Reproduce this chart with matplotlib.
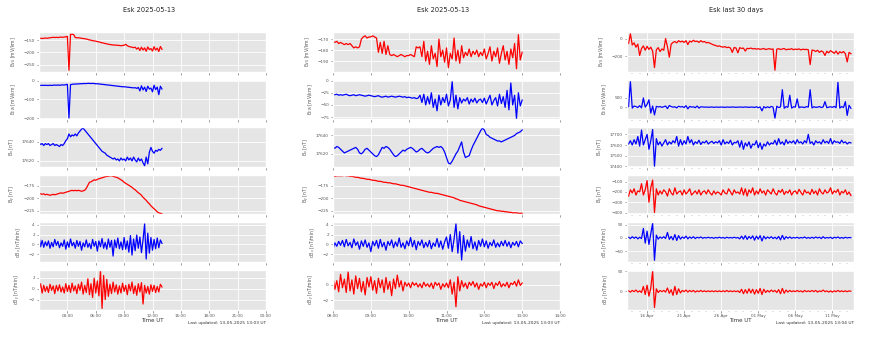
import matplotlib
matplotlib.use("Agg")

import matplotlib.dates as mdates
import matplotlib.pyplot as plt
import pandas as pd

# --- today, full day (10 min samples from 00:00) ---
DAY_E_NS = [-142, -141, -142, -141, -140, -141,
            -140, -139, -138, -137, -138, -137,
            -138, -137, -136, -137, -136, -135,
            -133, -274, -125, -124, -126, -138,
            -139, -139, -140, -141, -142, -143,
            -144, -146, -148, -149, -151, -152,
            -153, -155, -156, -158, -160, -161,
            -163, -164, -166, -167, -168, -169,
            -169, -170, -170, -171, -172, -171,
            -170, -166, -172, -175, -177, -178,
            -180, -178, -186, -180, -192, -178,
            -190, -181, -195, -177, -188, -184,
            -194, -176, -190, -182, -196, -175, -187]
DAY_E_EW = [-25, -26, -25, -26, -25, -26,
            -26, -25, -26, -25, -24, -25,
            -24, -25, -24, -23, -24, -22,
            -20, -200, -22, -20, -19, -19,
            -18, -18, -17, -17, -16, -16,
            -16, -15, -15, -16, -15, -16,
            -17, -17, -18, -19, -20, -21,
            -22, -23, -24, -25, -26, -27,
            -28, -29, -30, -31, -32, -33,
            -33, -34, -35, -36, -37, -38,
            -39, -38, -42, -36, -55, -28,
            -50, -35, -58, -30, -45, -40,
            -60, -25, -48, -35, -75, -30, -45]
DAY_B_X = [17639, 17637, 17638, 17636, 17638, 17637,
           17638, 17636, 17637, 17638, 17636, 17637,
           17636, 17635, 17637, 17636, 17638, 17641,
           17643, 17648, 17645, 17647, 17646, 17648,
           17646, 17649, 17651, 17653, 17654, 17652,
           17650, 17648, 17646, 17644, 17642, 17640,
           17638, 17636, 17634, 17632, 17630, 17629,
           17628, 17626, 17625, 17624, 17623, 17622,
           17623, 17621, 17622, 17620, 17623, 17621,
           17622, 17620, 17624, 17621, 17623, 17620,
           17624, 17621, 17619, 17623, 17620, 17622,
           17618, 17615, 17624, 17617, 17629, 17634,
           17630, 17628, 17631, 17630, 17632, 17631, 17633]
DAY_B_Y = [-190, -191, -192, -191, -193, -192,
           -193, -194, -193, -192, -193, -192,
           -191, -190, -189, -190, -189, -188,
           -187, -186, -185, -184, -185, -184,
           -185, -184, -185, -186, -185, -184,
           -180, -174, -168, -167, -165, -163,
           -164, -162, -161, -160, -159, -158,
           -157, -156, -156, -155, -155, -156,
           -157, -158, -159, -161, -163, -165,
           -168, -170, -172, -174, -176, -178,
           -181, -183, -186, -189, -191, -194,
           -198, -201, -204, -208, -211, -215,
           -218, -221, -224, -227, -229, -230, -231]
DAY_DB_X = [1.8, -0.5, 0.8, -0.6, 0.5, -0.3,
            0.7, -0.8, 0.4, -0.5, 1.0, -0.2,
            0.6, -0.7, 0.3, -0.4, 0.9, -1.0,
            0.5, -0.6, 1.1, -0.3, 0.4, -0.8,
            0.8, -0.4, 0.6, -1.2, 0.3, -0.5,
            0.9, -0.6, 0.2, -0.9, 1.0, -0.4,
            0.6, -1.4, 0.7, -0.5, 1.2, -0.8,
            0.4, -1.0, 1.1, -0.6, 0.8, -2.4,
            0.9, -0.7, 1.3, -0.9, 0.5, -1.1,
            1.4, -1.0, 0.7, -1.6, 1.8, -2.2,
            1.1, -1.3, 1.9, -0.8, 1.5, -1.7,
            0.9, 4.2, -3.0, 2.3, -1.8, 1.4,
            -1.2, 1.0, -0.9, 1.3, -0.7, 0.9, 0.2]
DAY_DB_Y = [-0.2, 0.9, -0.8, 0.6, -0.5, 0.4,
            -0.7, 0.8, -0.3, 0.5, -0.9, 0.6,
            -0.4, 0.7, -0.6, 0.3, -0.8, 0.9,
            -0.5, 0.6, -0.7, 1.0, -0.4, 0.5,
            -0.9, 0.8, -0.3, 1.2, -1.0, 0.6,
            -0.7, 1.8, -1.1, 0.9, -1.6, 1.9,
            -0.8, 1.4, -1.3, 3.3, -3.6, 2.4,
            -2.0, 1.7, -1.4, 0.8, -0.9, 1.2,
            -0.6, 0.7, -1.0, 0.5, -0.8, 1.0,
            -0.5, 0.6, -1.1, 0.8, -0.4, 1.2,
            -0.9, 0.5, -1.2, 0.9, -0.6, 1.1,
            -2.8, 0.6, -0.8, 0.4, -1.0, 0.7,
            -0.5, 0.6, -0.7, 0.4, -0.6, 0.8, 0.3]

# --- today, 08:00 onwards (3 min samples) ---
ZOOM_E_NS = [-172, -173, -172, -174, -173, -174, -175, -174, -175, -174,
             -176, -178, -177, -178, -177, -170, -168, -167, -169, -168,
             -168, -167, -168, -169, -182, -173, -183, -172, -184, -176,
             -184, -185, -184, -185, -186, -185, -184, -185, -186, -185,
             -185, -184, -185, -186, -177, -178, -177, -186, -172, -190,
             -181, -193, -176, -188, -183, -195, -170, -186, -180, -191,
             -178, -196, -183, -188, -169, -190, -180, -192, -176, -187,
             -182, -185, -179, -186, -181, -184, -180, -186, -182, -185,
             -179, -188, -183, -177, -190, -181, -186, -178, -192, -183,
             -176, -189, -181, -193, -179, -187, -174, -197, -166, -189,
             -182]
ZOOM_E_EW = [-28, -29, -28, -30, -29, -30, -29, -28, -30, -31,
             -30, -29, -31, -30, -29, -30, -31, -32, -31, -30,
             -31, -32, -33, -32, -31, -33, -34, -33, -32, -34,
             -33, -32, -33, -34, -33, -32, -33, -34, -33, -35,
             -34, -35, -36, -35, -37, -36, -30, -45, -28, -50,
             -33, -48, -25, -55, -38, -62, -30, -50, -35, -45,
             -28, -52, -40, -2, -55, -30, -58, -35, -46, -38,
             -42, -35, -48, -38, -44, -36, -46, -40, -38, -45,
             -36, -48, -39, -30, -50, -41, -35, -52, -28, -47,
             -33, -55, -20, -60, -5, -50, -30, -78, -25, -52,
             -40]
ZOOM_B_X = [17627, 17626, 17628, 17627, 17625, 17623, 17621, 17622, 17623, 17624,
            17625, 17626, 17627, 17625, 17621, 17620, 17622, 17625, 17626, 17624,
            17622, 17620, 17618, 17617, 17619, 17623, 17627, 17626, 17628, 17627,
            17625, 17622, 17619, 17617, 17618, 17620, 17622, 17624, 17623, 17625,
            17626, 17627, 17626, 17624, 17622, 17623, 17625, 17626, 17624, 17622,
            17621, 17622, 17624, 17626, 17627, 17628, 17627, 17628, 17626, 17622,
            17616, 17610, 17609, 17612, 17616, 17620, 17623, 17628, 17633, 17622,
            17616, 17617, 17618, 17624, 17629, 17633, 17637, 17641, 17645, 17648,
            17646, 17641, 17640, 17638, 17637, 17636, 17635, 17634, 17634, 17633,
            17634, 17635, 17636, 17637, 17638, 17639, 17640, 17642, 17643, 17644,
            17646]
ZOOM_B_Y = [-156, -156, -155, -155, -155, -155, -154, -155, -155, -156,
            -156, -157, -158, -158, -159, -160, -160, -161, -162, -162,
            -163, -164, -164, -165, -166, -166, -167, -168, -168, -169,
            -169, -170, -171, -171, -172, -173, -174, -174, -175, -176,
            -177, -178, -179, -180, -181, -182, -183, -184, -185, -186,
            -187, -188, -188, -189, -190, -190, -191, -192, -193, -194,
            -195, -196, -197, -198, -199, -201, -202, -204, -205, -206,
            -207, -208, -209, -210, -211, -212, -213, -215, -216, -217,
            -218, -219, -220, -221, -222, -223, -224, -225, -225, -226,
            -226, -227, -227, -228, -228, -229, -229, -229, -230, -230,
            -230]
ZOOM_DB_X = [-1.0, 0.3, -0.4, 0.6, -0.2, 0.8, -0.5, 1.0, -0.3, 0.4,
             -0.7, 1.1, -0.2, 0.5, -1.0, 0.7, -0.4, 0.9, -0.6, 0.3,
             -1.5, 0.6, -0.3, 0.8, -0.8, 1.0, -0.5, 0.4, -1.2, 0.6,
             -0.2, 0.9, -0.7, 0.5, -0.4, 1.3, -0.6, 0.3, -0.9, 0.7,
             -0.3, 1.4, -0.5, 0.8, -1.1, 0.6, -0.2, 0.9, -0.7, 0.4,
             -0.5, 0.8, -0.9, 0.3, -0.4, 1.2, -0.6, 0.7, -1.0, 0.5,
             1.5, -0.8, 2.0, -1.5, 1.1, 4.2, -1.8, 2.6, -3.2, 1.8,
             -1.4, 0.9, -0.6, 1.6, -0.9, 0.5, -1.2, 0.8, -0.4, 1.1,
             -0.5, 0.7, -0.8, 0.4, -0.3, 0.9, -0.6, 0.3, -0.5, 0.6,
             -0.3, 0.8, -0.4, 0.5, -0.7, 0.4, -0.2, 0.6, -0.5, 0.7,
             0.2]
ZOOM_DB_Y = [0.9, -0.6, 0.5, -0.9, 1.3, -0.4, 0.7, -1.0, 1.6, -0.8,
             0.6, -1.2, 1.1, -0.5, 0.8, -0.9, 0.4, -1.3, 0.9, -0.3,
             1.0, -0.7, 0.5, -1.1, 0.8, -0.4, 0.6, -1.0, 0.9, -0.6,
             0.4, -1.4, 0.7, -0.5, 1.2, -0.3, 0.5, -0.8, 0.3, -0.2,
             0.2, -0.4, 0.3, -0.1, 0.2, -0.3, 0.1, -0.4, 0.3, -0.2,
             0.1, -0.3, 0.2, -0.5, 0.3, -0.1, 0.2, -0.6, 0.1, -0.3,
             0.2, -0.4, 0.6, -1.2, 0.3, -2.8, 1.0, -0.8, 0.5, -0.3,
             0.2, -0.5, 0.3, -0.1, 0.4, -0.3, 0.2, -0.6, 0.1, -0.2,
             0.3, -0.4, 0.2, -0.1, 0.3, -0.5, 0.2, -0.1, 0.4, -0.3,
             0.1, -0.2, 0.3, -0.4, 0.2, 0.0, 0.4, -0.2, 0.6, -0.1,
             0.2]

# --- last 30 days (6 h samples from 13 Apr 12:00) ---
MONTH_E_NS = [-52, 60, -70, -45, -95, -60, -190, -110, -80, -130,
              -85, -120, -95, -140, -330, -125, -100, -145, -115, -130,
              5, -90, -210, -60, -40, -30, -45, -20, -35, -25,
              -40, -20, -65, -25, -35, -15, -30, -25, -40, -20,
              -35, -30, -45, -40, -50, -60, -70, -75, -85, -80,
              -90, -95, -88, -100, -95, -105, -155, -98, -105, -160,
              -100, -110, -105, -140, -108, -112, -105, -115, -110, -118,
              -112, -120, -115, -110, -122, -116, -112, -120, -115, -360,
              -118, -112, -122, -115, -110, -125, -118, -120, -112, -124,
              -117, -121, -115, -126, -118, -122, -120, -125, -295, -128,
              -132, -145, -130, -155, -138, -150, -190, -142, -160, -135,
              -150, -165, -140, -175, -148, -160, -145, -170, -265, -155,
              -170]
MONTH_E_EW = [20, 1400, -50, 60, 30, -20, 80, -40, 500, 0,
              150, 400, -320, 60, -420, 40, 10, 30, -10, 20,
              60, -80, 90, 30, 0, 20, -40, 50, 10, 30,
              -20, 80, -90, 40, 0, 20, -30, 60, -50, 20,
              10, 0, 5, -5, 0, 10, -10, 5, 0, -5,
              5, 0, -10, 5, 0, -5, 10, 0, -5, 0,
              5, 0, -5, 10, 0, -10, 5, 0, -15, 20,
              -30, 10, -200, 30, -40, 20, -30, 40, 0, -600,
              50, -20, 10, 950, -60, 30, -10, 650, -50, 20,
              0, 450, -30, 10, 0, -20, 30, 0, 950, -40,
              20, -10, 0, 30, -20, 10, 300, -30, 0, 20,
              -10, 40, -30, 1350, -50, 30, -20, 300, -450, 100,
              -60]
MONTH_B_X = [17610, 17640, 17600, 17650, 17610, 17680, 17590, 17740, 17600, 17650,
             17700, 17560, 17640, 17745, 17400, 17660, 17600, 17630, 17590, 17620,
             17650, 17600, 17630, 17610, 17640, 17620, 17680, 17590, 17650, 17600,
             17640, 17610, 17680, 17620, 17650, 17600, 17630, 17615, 17645, 17605,
             17630, 17620, 17640, 17610, 17625, 17635, 17615, 17630, 17620, 17640,
             17600, 17650, 17610, 17630, 17615, 17645, 17600, 17625, 17620, 17640,
             17580, 17640, 17560, 17620, 17590, 17630, 17570, 17610, 17600, 17640,
             17575, 17620, 17560, 17610, 17590, 17630, 17600, 17620, 17610, 17645,
             17600, 17660, 17610, 17630, 17600, 17650, 17615, 17635, 17620, 17640,
             17610, 17650, 17620, 17630, 17610, 17640, 17620, 17700, 17615, 17630,
             17600, 17640, 17620, 17630, 17610, 17650, 17620, 17635, 17615, 17660,
             17610, 17640, 17625, 17630, 17615, 17645, 17620, 17630, 17610, 17625,
             17620]
MONTH_B_Y = [-240, -180, -210, -170, -230, -190, -200, -120, -230, -180,
             -90, -300, -160, -85, -400, -170, -230, -190, -220, -180,
             -200, -240, -170, -210, -230, -160, -220, -200, -190, -230,
             -180, -220, -200, -170, -230, -210, -190, -220, -180, -230,
             -200, -190, -220, -180, -210, -230, -190, -220, -200, -210,
             -230, -180, -210, -220, -170, -200, -230, -180, -210, -200,
             -220, -160, -230, -170, -240, -180, -210, -160, -230, -190,
             -220, -170, -210, -190, -230, -180, -200, -220, -170, -210,
             -230, -185, -205, -175, -225, -195, -210, -180, -230, -200,
             -190, -220, -175, -205, -230, -180, -210, -200, -225, -175,
             -215, -190, -230, -170, -205, -220, -180, -210, -200, -160,
             -220, -190, -205, -175, -230, -195, -210, -180, -225, -200,
             -235]
MONTH_DB_X = [2, -3, 4, -2, 3, -4, 2, -3, 35, -20,
              25, -25, 15, 55, -85, 10, -5, 3, -2, 4,
              -3, 20, -6, 5, -8, 12, -10, 8, -5, 3,
              -2, 6, -4, 3, -2, 4, -3, 2, -1, 3,
              -2, 1, -1, 2, -1, 1, -2, 1, -1, 2,
              -1, 1, -2, 2, -1, 1, -1, 2, -1, 1,
              -4, 6, -5, 8, -6, 5, -3, 7, -9, 6,
              -5, 8, -12, 6, -4, 3, -2, 4, -3, 2,
              -4, 5, -8, 9, -6, 4, -2, 3, -2, 1,
              -1, 2, -2, 1, -1, 3, -2, 1, -2, 2,
              -2, 3, -1, 2, -3, 4, -2, 1, -1, 2,
              -3, 2, -1, 3, -2, 1, -2, 2, -1, 1,
              0]
MONTH_DB_Y = [1, -2, 2, -1, 3, -2, 1, -3, 12, -8,
              15, -12, 8, 50, -40, 6, -3, 2, -1, 2,
              -2, 8, -5, 4, -10, 12, -8, 6, -4, 2,
              -1, 3, -2, 2, -1, 2, -2, 1, -1, 2,
              -1, 1, -1, 1, -1, 1, -1, 1, -1, 1,
              -1, 1, -1, 2, -1, 1, -1, 1, -1, 1,
              -3, 5, -6, 4, -5, 6, -4, 5, -7, 4,
              -5, 7, -8, 5, -3, 2, -2, 3, -1, 2,
              -3, 4, -6, 7, -5, 3, -2, 2, -1, 1,
              -1, 2, -1, 1, -2, 2, -1, 1, -1, 2,
              -1, 2, -2, 1, -1, 3, -1, 1, -2, 1,
              -2, 1, -1, 2, -1, 1, -1, 1, -1, 1,
              0]

YLABELS = [r"E$_{NS}$ [mV/km]", r"E$_{EW}$ [mV/km]", r"B$_{x}$ [nT]",
           r"B$_{y}$ [nT]", r"dB$_{x}$ [nT/min]", r"dB$_{y}$ [nT/min]"]
COLORS = ["red", "blue", "blue", "red", "blue", "red"]

FIG_W, FIG_H = 890, 337
ROW_TOP, ROW_PITCH, ROW_H = 32, 47.6, 39.5
COL_W = 227


def px_box(left, top, width, height):
    return [left / FIG_W, 1 - (top + height) / FIG_H, width / FIG_W, height / FIG_H]


def draw_column(fig, left, title, title_x, updated, start, freq, series,
                ylims, yticks, xlim, set_xaxis):
    axes = []
    for row, values in enumerate(series):
        ax = fig.add_axes(px_box(left, ROW_TOP + row * ROW_PITCH, COL_W, ROW_H))
        times = pd.date_range(start, periods=len(values), freq=freq)
        ax.plot(times, values, color=COLORS[row], lw=0.9)
        ax.set_xlim(*xlim)
        ax.set_ylim(*ylims[row])
        ax.set_yticks(yticks[row])
        ax.set_ylabel(YLABELS[row], fontsize=3.3, labelpad=4, color="#555555")
        ax.grid(True, color="white", lw=0.6)
        ax.tick_params(labelsize=3.0, length=1.8, width=0.4, pad=1.2,
                       colors="#555555")
        ax.tick_params(which="minor", length=1.1, width=0.3, colors="#555555")
        set_xaxis(ax)
        if row < len(series) - 1:
            ax.tick_params(labelbottom=False)
        axes.append(ax)

    axes[-1].set_xlabel("Time UT", fontsize=4.0, labelpad=0.6, color="#333333")
    fig.text((left + COL_W) / FIG_W, 1 - 323 / FIG_H,
             f"Last updated: 13-05-2025 {updated} UT",
             fontsize=3.2, ha="right", va="center", color="#333333")
    fig.text(title_x / FIG_W, 1 - 10 / FIG_H, title, fontsize=4.8,
             ha="center", va="center", color="#222222")


def hour_axis(first, last):
    ticks = pd.date_range(first, last, freq="1h")

    def apply(ax):
        ax.set_xticks(ticks)
        ax.xaxis.set_major_formatter(mdates.DateFormatter("%H:%M"))
    return apply


def day_axis(ax):
    ticks = pd.to_datetime(["2025-04-16", "2025-04-21", "2025-04-26",
                            "2025-05-01", "2025-05-06", "2025-05-11"])
    ax.set_xticks(ticks)
    ax.xaxis.set_major_formatter(mdates.DateFormatter("%d %b"))
    ax.xaxis.set_minor_locator(mdates.DayLocator())


def three_hourly(ax):
    ticks = pd.date_range("2025-05-13 03:00", "2025-05-14 00:00", freq="3h")
    ax.set_xticks(ticks)
    ax.xaxis.set_major_formatter(mdates.DateFormatter("%H:%M"))


def main():
    plt.style.use("ggplot")
    fig = plt.figure(figsize=(8.9, 3.37), dpi=100)

    draw_column(
        fig, 39, "Esk 2025-05-13", 149, "13:03", "2025-05-13 00:00", "10min",
        [DAY_E_NS, DAY_E_EW, DAY_B_X, DAY_B_Y, DAY_DB_X, DAY_DB_Y],
        [(-279, -115), (-205, 5), (17614, 17655), (-232, -153), (-3.6, 4.5), (-3.8, 3.4)],
        [[-250, -200, -150], [-200, -100, 0], [17620, 17640], [-225, -200, -175],
         [-2, 0, 2, 4], [-2, 0, 2]],
        (pd.Timestamp("2025-05-13 00:00"), pd.Timestamp("2025-05-14 00:00")),
        three_hourly,
    )
    draw_column(
        fig, 333, "Esk 2025-05-13", 443, "13:03", "2025-05-13 08:00", "3min",
        [ZOOM_E_NS, ZOOM_E_EW, ZOOM_B_X, ZOOM_B_Y, ZOOM_DB_X, ZOOM_DB_Y],
        [(-199.5, -163.5), (-79, 2), (17606, 17649), (-232, -153), (-3.6, 4.5), (-3.15, 1.85)],
        [[-190, -180, -170], [-75, -50, -25, 0], [17620, 17640], [-225, -200, -175],
         [-2, 0, 2, 4], [-2, 0]],
        (pd.Timestamp("2025-05-13 08:00"), pd.Timestamp("2025-05-13 14:00")),
        hour_axis("2025-05-13 08:00", "2025-05-13 14:00"),
    )
    draw_column(
        fig, 627, "Esk last 30 days", 736, "13:04", "2025-04-13 12:00", "6h",
        [MONTH_E_NS, MONTH_E_EW, MONTH_B_X, MONTH_B_Y, MONTH_DB_X, MONTH_DB_Y],
        [(-375, 80), (-650, 1500), (17397, 17767), (-417, -34), (-91, 58), (-45, 52.5)],
        [[-200, 0], [0, 500], [17400, 17500, 17600, 17700], [-400, -300, -200, -100],
         [-50, 0, 50], [0, 50]],
        (pd.Timestamp("2025-04-13 07:00"), pd.Timestamp("2025-05-13 22:00")),
        day_axis,
    )

    fig.savefig("out.png", dpi=100, facecolor="white")


if __name__ == "__main__":
    main()
